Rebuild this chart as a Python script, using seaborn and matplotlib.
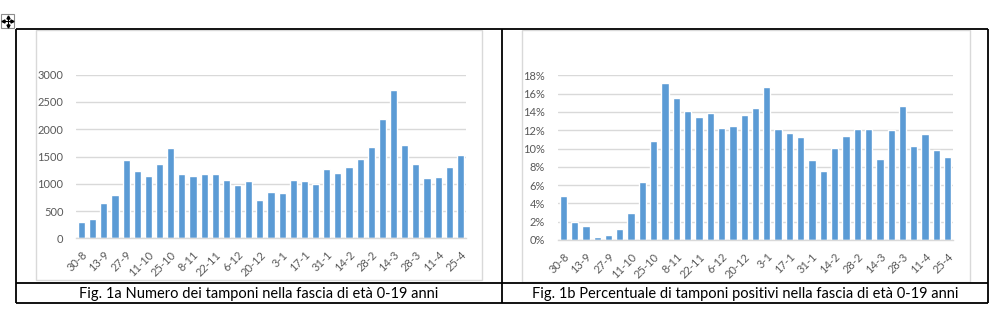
import matplotlib
matplotlib.use("Agg")
import numpy as np
import pandas as pd
import seaborn as sns
import matplotlib.pyplot as plt
from matplotlib.lines import Line2D
from matplotlib.patches import Rectangle
from matplotlib.ticker import PercentFormatter, MultipleLocator

# ---------------- data ----------------
weeks = ['30-8', '6-9', '13-9', '20-9', '27-9', '4-10', '11-10', '18-10', '25-10',
         '1-11', '8-11', '15-11', '22-11', '29-11', '6-12', '13-12', '20-12', '27-12',
         '3-1', '10-1', '17-1', '24-1', '31-1', '7-2', '14-2', '21-2', '28-2',
         '7-3', '14-3', '21-3', '28-3', '4-4', '11-4', '18-4', '25-4']
tamponi = [293, 354, 641, 800, 1442, 1228, 1142, 1368, 1662, 1173, 1142, 1185, 1185,
           1069, 983, 1045, 696, 855, 825, 1069, 1045, 1002, 1271, 1191, 1313, 1454,
           1674, 2181, 2712, 1717, 1356, 1112, 1130, 1313, 1521]
positivi_pct = [4.77, 1.97, 1.53, 0.36, 0.55, 1.17, 2.99, 6.30, 10.79, 17.13, 15.49,
                14.14, 13.48, 13.88, 12.24, 12.43, 13.63, 14.39, 16.73, 12.10, 11.66,
                11.26, 8.75, 7.58, 10.02, 11.41, 12.10, 12.17, 8.82, 12.03, 14.65,
                10.31, 11.59, 9.88, 9.11]
tick_labels = weeks[::2]
caption_a = "Fig. 1a Numero dei tamponi nella fascia di età 0-19 anni"
caption_b = "Fig. 1b Percentuale di tamponi positivi nella fascia di età 0-19 anni"

sns.set_theme(style="white")
plt.rcParams['font.family'] = ['Lato', 'DejaVu Sans']

BLUE = '#5B9BD5'
GRID = '#D9D9D9'
TXT = '#595959'

W, H = 1000, 324
fig = plt.figure(figsize=(W / 100, H / 100), dpi=100)
fig.patch.set_facecolor('white')


def fx(x):
    return x / W


def fy(y):
    return 1 - y / H


def line(x0, y0, x1, y1, color='black', lw=1.3, **kw):
    fig.add_artist(Line2D([fx(x0), fx(x1)], [fy(y0), fy(y1)], color=color, lw=lw,
                          transform=fig.transFigure, solid_capstyle='butt', **kw))


# chart area frames (light gray)
for (x0, y0, x1, y1) in [(36, 30, 482, 280), (522, 30, 970, 282)]:
    fig.add_artist(Rectangle((fx(x0), fy(y1)), fx(x1 - x0), (y1 - y0) / H,
                             fill=False, edgecolor=GRID, lw=1.0,
                             transform=fig.transFigure))

# table borders
line(16, 29, 988, 29)
line(16, 303, 988, 303)
line(16, 29, 16, 303)
line(988, 29, 988, 303)
line(502, 29, 502, 303)
line(16, 283, 988, 283)

# move handle icon (four-way arrow in a small box)
fig.add_artist(Rectangle((fx(1), fy(28)), fx(13), 14 / H, fill=False,
                         edgecolor='#8C8C8C', lw=0.8, transform=fig.transFigure))
cx, cy = 7.5, 21
line(cx - 4.5, cy, cx + 4.5, cy, lw=0.8)
line(cx, cy - 4.5, cx, cy + 4.5, lw=0.8)
for (mx, my, m) in [(cx - 4.5, cy, '<'), (cx + 4.5, cy, '>'),
                    (cx, cy - 4.5, '^'), (cx, cy + 4.5, 'v')]:
    fig.add_artist(Line2D([fx(mx)], [fy(my)], marker=m, markersize=2.2, color='black',
                          lw=0, transform=fig.transFigure))


def style_axes(ax):
    ax.set_xlim(-0.5, len(weeks) - 0.5)
    ax.set_xticks(range(0, len(weeks), 2))
    ax.set_xticklabels(tick_labels, rotation=45, ha='right', rotation_mode='anchor',
                       fontsize=8, color=TXT)
    ax.tick_params(axis='x', length=0, pad=8)
    ax.tick_params(axis='y', length=0, pad=9, labelsize=8, labelcolor=TXT)
    ax.yaxis.grid(True, color=GRID, lw=1.0)
    ax.xaxis.grid(False)
    ax.set_axisbelow(True)
    for s in ['top', 'right', 'left']:
        ax.spines[s].set_visible(False)
    ax.spines['bottom'].set_color(GRID)
    ax.spines['bottom'].set_linewidth(1.0)
    ax.set_xlabel('')
    ax.set_ylabel('')
    ax.set_facecolor('none')


# left chart
ax1 = fig.add_axes([fx(76), fy(238.3), fx(390), (238.3 - 74.7) / H])
df1 = pd.DataFrame({'settimana': weeks, 'tamponi': tamponi})
sns.barplot(data=df1, x='settimana', y='tamponi', order=weeks, color=BLUE,
            saturation=1, width=0.65, ax=ax1)
ax1.set_ylim(0, 3000)
ax1.yaxis.set_major_locator(MultipleLocator(500))
style_axes(ax1)

# right chart
ax2 = fig.add_axes([fx(557.6), fy(240), fx(395.8), (240 - 75.3) / H])
df2 = pd.DataFrame({'settimana': weeks, 'positivi': positivi_pct})
sns.barplot(data=df2, x='settimana', y='positivi', order=weeks, color=BLUE,
            saturation=1, width=0.65, ax=ax2)
ax2.set_ylim(0, 18)
ax2.yaxis.set_major_locator(MultipleLocator(2))
ax2.yaxis.set_major_formatter(PercentFormatter(decimals=0))
style_axes(ax2)

# captions
fig.text(fx(259), fy(294), caption_a, ha='center', va='center', fontsize=10.5,
         color='black')
fig.text(fx(745), fy(294), caption_b, ha='center', va='center', fontsize=10.5,
         color='black')

fig.savefig('out.png', dpi=100, facecolor='white')
